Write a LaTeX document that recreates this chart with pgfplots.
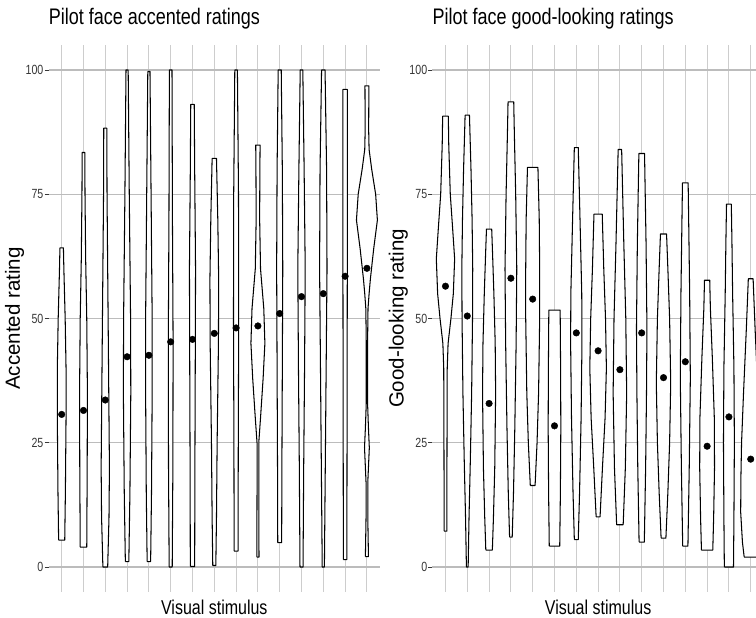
\documentclass[border=0pt]{standalone}
\usepackage{pgfplots}
\pgfplotsset{compat=1.18}
\usepackage{fontspec}
\setmainfont{Liberation Sans}
\newfontfamily\narrowfont{Liberation Sans}[FakeStretch=0.8]
\definecolor{gridx}{RGB}{205,205,205}
\definecolor{gridy}{RGB}{188,188,188}
\definecolor{tickc}{RGB}{55,55,55}
\newcommand\titlefont{\narrowfont\fontsize{22.5pt}{24pt}\selectfont}
\newcommand\xlabfont{\narrowfont\fontsize{20pt}{22pt}\selectfont}
\newcommand\ylabfont{\fontsize{20.5pt}{22pt}\selectfont}
\newcommand\tickfont{\narrowfont\fontsize{13.3pt}{14pt}\selectfont}

% violin outline: #1 = category position, #2 = list of value/half-width pairs (bottom to top)
\newcommand\violin[2]{%
  \gdef\vl{}\gdef\vr{}\gdef\vfirst{}%
  \foreach \yy/\hh [count=\i] in {#2}{%
    \pgfmathsetmacro\xl{#1-\hh}%
    \pgfmathsetmacro\xr{#1+\hh}%
    \xdef\vl{\vl(\xl,\yy)}%
    \xdef\vr{(\xr,\yy)\vr}%
    \ifnum\i=1 \xdef\vfirst{(\xl,\yy)}\fi
  }%
  \edef\tmp{\noexpand\addplot[vio] coordinates {\vl\vr\vfirst};}%
  \tmp
}

\pgfplotsset{
  vio/.style={fill=white, draw=black, line width=1.05pt, mark=none, line join=round},
  dots/.style={only marks, mark=*, mark size=3.3pt, black},
  panel/.style={
    scale only axis, width=331.4pt, height=546.7pt,
    anchor=south west,
    xmin=0.4, xmax=15.6, ymin=-5, ymax=105,
    xtick={1,...,15}, xticklabels={}, ytick={0,25,50,75,100},
    xmajorgrids, ymajorgrids,
    x grid style={color=gridx, line width=1pt},
    y grid style={color=gridy, line width=1.2pt},
    axis line style={draw=none},
    tick align=outside, tick pos=left, major tick length=4pt,
    xtick style={draw=none},
    ytick style={color=tickc, line width=0.9pt},
    yticklabel style={font=\tickfont, text=tickc, inner sep=1pt},
    /pgf/number format/assume math mode=true,
    title style={at={(axis description cs:0,1)}, anchor=base west, yshift=14.5pt, inner sep=0pt, font=\titlefont},
    xlabel style={at={(axis description cs:0.5,0)}, anchor=base, yshift=-23.1pt, inner sep=0pt, font=\xlabfont},
    ylabel style={at={(axis description cs:-0.1026,0.5)}, anchor=center, inner sep=0pt, font=\ylabfont},
  }
}

\begin{document}
\begin{tikzpicture}
\begin{axis}[panel, at={(48.6pt,26.15pt)},
  title={Pilot face accented ratings},
  xlabel={Visual stimulus}, ylabel={Accented rating}]
\violin{1}{5.4/0.14, 15/0.17, 30/0.2, 40/0.2, 50/0.16, 60/0.1, 64.2/0.08}
\violin{2}{4/0.15, 20/0.17, 35/0.18, 50/0.15, 62/0.1, 75/0.07, 83.4/0.06}
\violin{3}{0/0.11, 10/0.17, 20/0.19, 35/0.16, 55/0.12, 75/0.08, 88.3/0.07}
\violin{4}{1.1/0.08, 15/0.13, 35/0.17, 50/0.16, 75/0.1, 95/0.06, 100/0.05}
\violin{5}{1.1/0.08, 15/0.12, 35/0.15, 50/0.15, 75/0.1, 95/0.06, 99.7/0.05}
\violin{6}{0/0.07, 20/0.1, 45/0.11, 70/0.08, 100/0.06}
\violin{7}{0.1/0.1, 20/0.11, 45/0.13, 60/0.14, 80/0.1, 93.1/0.08}
\violin{8}{0.3/0.07, 10/0.1, 25/0.13, 45/0.19, 58/0.2, 70/0.16, 82.2/0.1}
\violin{9}{3.2/0.09, 25/0.1, 50/0.12, 75/0.11, 95/0.07, 100/0.06}
\violin{10}{2/0.05, 15/0.04, 25/0.04, 30/0.12, 38/0.24, 45/0.32, 52/0.27, 60/0.12, 70/0.08, 80/0.09, 84.9/0.1}
\violin{11}{4.9/0.09, 20/0.1, 40/0.12, 60/0.14, 80/0.12, 100/0.07}
\violin{12}{0/0.07, 20/0.1, 40/0.14, 60/0.17, 80/0.12, 100/0.06}
\violin{13}{0/0.05, 20/0.09, 40/0.13, 60/0.17, 80/0.15, 100/0.08}
\violin{14}{1.5/0.08, 30/0.09, 60/0.1, 96.1/0.1}
\violin{15}{2.1/0.07, 10/0.04, 17/0.04, 21/0.08, 24/0.11, 28/0.07, 33/0.03, 45/0.03, 52/0.05, 55/0.1, 58/0.16, 64/0.31, 69.8/0.48, 75/0.4, 80/0.22, 84/0.1, 88/0.08, 96.8/0.09}
\addplot[dots] coordinates {(1,30.7) (2,31.5) (3,33.6) (4,42.3) (5,42.6) (6,45.3) (7,45.8) (8,47.0) (9,48.1) (10,48.5) (11,51.0) (12,54.4) (13,55.0) (14,58.5) (15,60.1)};
\end{axis}
\begin{axis}[panel, at={(432.4pt,26.15pt)},
  title={Pilot face good-looking ratings},
  xlabel={Visual stimulus}, ylabel={Good-looking rating}]
\violin{1}{7.2/0.06, 25/0.07, 40/0.08, 45/0.12, 50/0.25, 55/0.36, 62/0.42, 68/0.33, 75/0.22, 85/0.15, 90.7/0.13}
\violin{2}{0/0.04, 10/0.08, 21.5/0.14, 35/0.2, 50/0.24, 60/0.25, 70/0.22, 80/0.17, 90.9/0.1}
\violin{3}{3.4/0.15, 10/0.2, 20/0.26, 35/0.3, 45/0.28, 55/0.22, 63/0.16, 68/0.12}
\violin{4}{6/0.06, 15/0.12, 28/0.18, 45/0.24, 60/0.27, 75/0.22, 87/0.16, 93.6/0.13}
\violin{5}{16.4/0.11, 25/0.2, 35/0.27, 50/0.32, 60/0.32, 70/0.3, 80.4/0.24}
\violin{6}{4.2/0.24, 15/0.27, 28/0.29, 40/0.28, 51.7/0.26}
\violin{7}{5.5/0.09, 15/0.15, 30/0.22, 45/0.26, 55/0.25, 70/0.17, 84.4/0.09}
\violin{8}{10.1/0.09, 20/0.2, 30/0.32, 40/0.38, 50/0.34, 60/0.26, 71/0.19}
\violin{9}{8.5/0.15, 20/0.25, 35/0.31, 50/0.27, 65/0.18, 84/0.08}
\violin{10}{5/0.12, 20/0.18, 35/0.22, 48/0.24, 65/0.2, 83.2/0.13}
\violin{11}{5.8/0.11, 15/0.2, 25/0.28, 37/0.33, 50/0.28, 60/0.2, 67/0.14}
\violin{12}{4.2/0.12, 20/0.18, 38/0.23, 55/0.2, 68/0.16, 77.3/0.13}
\violin{13}{3.4/0.26, 10/0.3, 20/0.34, 30/0.33, 42/0.24, 52/0.15, 57.7/0.12}
\violin{14}{0/0.21, 10/0.23, 25/0.25, 40/0.23, 55/0.17, 65/0.14, 73/0.11}
\violin{15}{2/0.3, 5/0.38, 11/0.46, 18/0.45, 25/0.42, 35/0.33, 48/0.2, 58/0.11}
\addplot[dots] coordinates {(1,56.5) (2,50.5) (3,32.9) (4,58.1) (5,53.9) (6,28.4) (7,47.1) (8,43.5) (9,39.7) (10,47.1) (11,38.1) (12,41.3) (13,24.3) (14,30.2) (15,21.7)};
\end{axis}
\pgfresetboundingbox
\useasboundingbox (0,0) rectangle (756pt,618pt);
\end{tikzpicture}
\end{document}
